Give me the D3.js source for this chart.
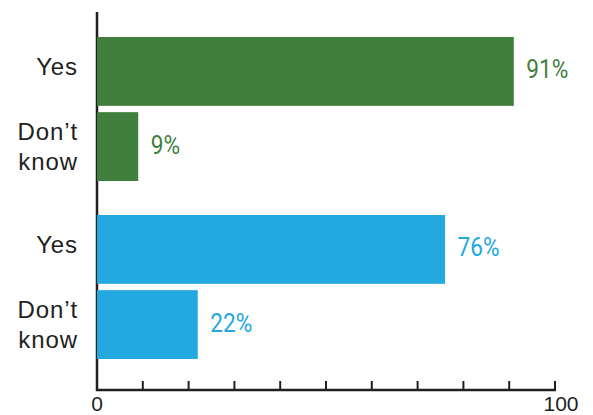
<!DOCTYPE html>
<html>
<head>
<meta charset="utf-8">
<script src="https://cdn.jsdelivr.net/npm/d3@7"></script>
<style>
  body { margin: 0; background: #fff; }
  svg { display: block; }
</style>
</head>
<body>
<div class="chart"></div>
<script>
// data
var groups = ['first', 'second'];
var categories = ['Yes', 'Don\u2019t know'];
var firstValues = [91, 9];
var secondValues = [76, 22];
var groupColors = ['#417f3e', '#23a8e0'];
var tickValues = [0, 10, 20, 30, 40, 50, 60, 70, 80, 90, 100];
var tickLabels = ['0', '100'];

var width = 593,
    height = 415;

var rows = [];
groups.forEach(function(g, gi) {
  var vals = gi === 0 ? firstValues : secondValues;
  categories.forEach(function(c, ci) {
    rows.push({ group: g, cat: c, value: vals[ci], color: groupColors[gi] });
  });
});

var x = d3.scaleLinear().domain([0, 100]).range([97, 555]);

var yGroup = d3.scaleBand().domain(groups).range([37, 359]).paddingInner(0.191);
var yCat = d3.scaleBand().domain(categories).range([0, yGroup.bandwidth()]).paddingInner(0.084);

var svg = d3.select('.chart').append('svg')
    .attr('width', width)
    .attr('height', height);

var ink = '#231f20';
var axisY = 390;

// axes
svg.append('line')
    .attr('x1', x(0)).attr('x2', x(0))
    .attr('y1', 12).attr('y2', axisY + 1)
    .attr('stroke', ink).attr('stroke-width', 2.5);

svg.append('line')
    .attr('x1', x(0) - 1).attr('x2', x(100) + 1)
    .attr('y1', axisY).attr('y2', axisY)
    .attr('stroke', ink).attr('stroke-width', 2.5);

svg.selectAll('.tick')
    .data(tickValues.slice(1))
  .enter().append('line')
    .attr('class', 'tick')
    .attr('x1', function(d) { return x(d); })
    .attr('x2', function(d) { return x(d); })
    .attr('y1', axisY)
    .attr('y2', axisY - 9)
    .attr('stroke', ink).attr('stroke-width', 2);

// tick labels sit right at the bottom edge, like the original
svg.selectAll('.ticklabel')
    .data(tickLabels)
  .enter().append('text')
    .attr('class', 'ticklabel')
    .attr('x', function(d, i) { return x(+d) + (i ? 6 : 0); })
    .attr('y', 411)
    .attr('text-anchor', 'middle')
    .attr('font-family', 'Liberation Sans, Arial, sans-serif')
    .attr('font-size', 21)
    .attr('fill', ink)
    .text(function(d) { return d; });

// bars
var rowY = function(d) { return yGroup(d.group) + yCat(d.cat); };
var mid = function(d) { return rowY(d) + yCat.bandwidth() / 2; };

svg.selectAll('.bar')
    .data(rows)
  .enter().append('rect')
    .attr('class', 'bar')
    .attr('x', x(0))
    .attr('y', rowY)
    .attr('width', function(d) { return x(d.value) - x(0); })
    .attr('height', yCat.bandwidth())
    .attr('fill', function(d) { return d.color; });

// value labels (condensed look)
svg.selectAll('.val')
    .data(rows)
  .enter().append('text')
    .attr('class', 'val')
    .attr('transform', function(d) {
      return 'translate(' + (x(d.value) + 12.5) + ',' + (mid(d) + 7) + ') scale(0.87,1)';
    })
    .attr('font-family', 'Roboto, sans-serif')
    .attr('font-size', 26)
    .attr('fill', function(d) { return d.color; })
    .text(function(d) { return d.value + '%'; });

// category labels
var catLabels = svg.selectAll('.cat')
    .data(rows)
  .enter().append('text')
    .attr('class', 'cat')
    .attr('text-anchor', 'end')
    .attr('font-family', 'Liberation Sans, Arial, sans-serif')
    .attr('font-size', 24)
    .attr('letter-spacing', 0.9)
    .attr('fill', ink);

catLabels.each(function(d) {
  var t = d3.select(this);
  var words = d.cat.split(' ');
  if (words.length === 1) {
    t.append('tspan').attr('x', 78).attr('y', mid(d) + 4).text(words[0]);
  } else {
    t.append('tspan').attr('x', 78).attr('y', mid(d) - 6.5).text(words[0]);
    t.append('tspan').attr('x', 78).attr('y', mid(d) + 23.5).text(words[1]);
  }
});
</script>
</body>
</html>
